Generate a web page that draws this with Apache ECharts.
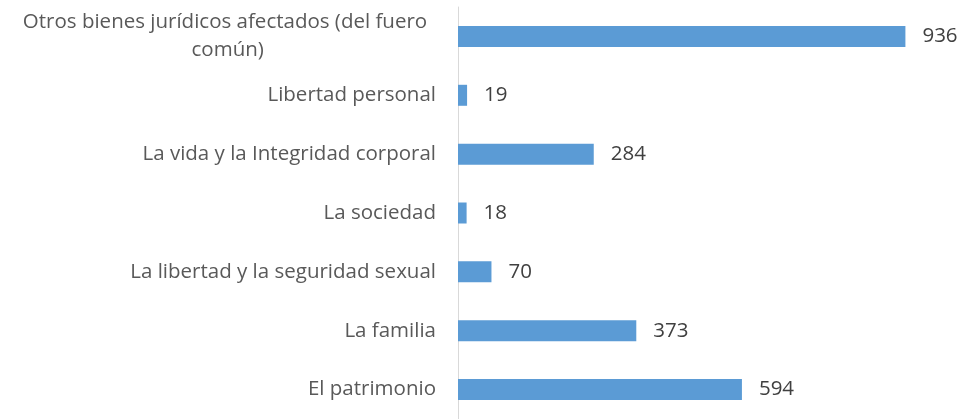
<!DOCTYPE html>
<html>
<head>
<meta charset="utf-8">
<script src="https://cdn.jsdelivr.net/npm/echarts@6/dist/echarts.min.js"></script>
<style>
  html, body { margin: 0; padding: 0; background: #fff; }
  #container { width: 969px; height: 419px; }
</style>
</head>
<body>
<div id="container"></div>
<script>
// categorias de abajo hacia arriba
var categorias = [
  'El patrimonio',
  'La familia',
  'La libertad y la seguridad sexual',
  'La sociedad',
  'La vida y la Integridad corporal',
  'Libertad personal',
  'Otros bienes jurídicos afectados (del fuero común)'
];
var valores = [594, 373, 70, 18, 284, 19, 936];

var dom = document.getElementById('container');
var myChart = echarts.init(dom, null, { renderer: 'canvas' });

var option = {
  animation: false,
  grid: { left: 458, right: 33, top: 7, height: 413 },
  xAxis: {
    type: 'value',
    min: 0,
    max: 1000,
    show: false
  },
  yAxis: {
    type: 'category',
    data: categorias,
    axisLine: { show: true, lineStyle: { color: '#d9d9d9', width: 1 } },
    axisTick: { show: false },
    axisLabel: {
      margin: 22,
      color: '#595959',
      fontFamily: 'Open Sans',
      fontSize: 20.5,
      lineHeight: 28,
      width: 422,
      overflow: 'break',
      align: 'right',
      formatter: function (v) {
        // las etiquetas largas se centran como en Excel
        return v.length > 40 ? '{c|' + v + '}' : v;
      },
      rich: {
        c: {
          align: 'center',
          color: '#595959',
          fontFamily: 'Open Sans',
          fontSize: 20.5,
          lineHeight: 28
        }
      }
    }
  },
  series: [{
    type: 'bar',
    data: valores,
    barWidth: 21,
    itemStyle: { color: '#5b9bd5' },
    label: {
      show: true,
      position: 'right',
      distance: 17,
      color: '#404040',
      fontFamily: 'Open Sans',
      fontSize: 20.5
    }
  }]
};
myChart.setOption(option);
window.addEventListener('resize', function () {
  myChart.resize();
});
</script>
</body>
</html>
